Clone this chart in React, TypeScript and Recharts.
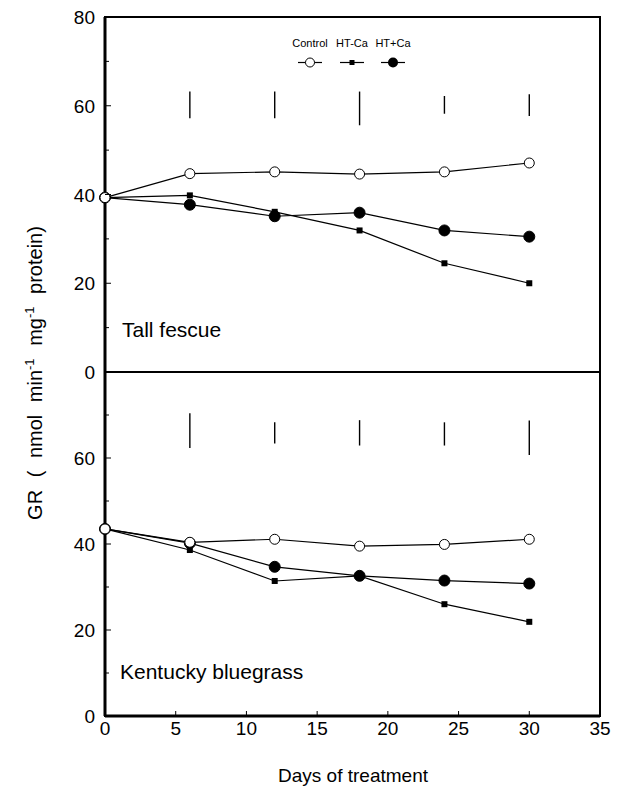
import React from 'react';
import { ComposedChart, Line, Scatter, ErrorBar, XAxis, YAxis, ReferenceArea } from 'recharts';

const days = [0, 6, 12, 18, 24, 30];

const fescueControl = [39.3, 44.7, 45.1, 44.6, 45.1, 47.1];
const fescueHtMinus = [39.3, 39.8, 36.1, 31.9, 24.5, 20.0];
const fescueHtPlus = [39.3, 37.7, 35.1, 35.9, 31.9, 30.5];

const bluegrassControl = [43.5, 40.4, 41.1, 39.5, 39.9, 41.1];
const bluegrassHtMinus = [43.5, 38.6, 31.4, 32.6, 26.0, 21.9];
const bluegrassHtPlus = [43.5, 40.2, 34.7, 32.6, 31.5, 30.8];

// LSD bars drawn above the lines
const lsdDays = [6, 12, 18, 24, 30];
const fescueLsdLow = [57.2, 57.2, 55.6, 58.2, 57.7];
const fescueLsdHigh = [63.2, 63.2, 63.2, 62.2, 62.6];
const bluegrassLsdLow = [62.3, 63.4, 62.9, 62.9, 60.7];
const bluegrassLsdHigh = [70.4, 68.3, 68.8, 68.3, 68.7];

const xTicks = [0, 5, 10, 15, 20, 25, 30, 35];
const topYTicks = [0, 10, 20, 30, 40, 50, 60, 70, 80];
const bottomYTicks = [0, 10, 20, 30, 40, 50, 60, 70];
const legendLabels = ['Control', 'HT-Ca', 'HT+Ca'];

const FONT = '"Liberation Sans", Arial, sans-serif';
const W = 623;
const MARGIN_RIGHT = 23;
const Y_WIDTH = 105;

function buildRows(control: number[], minus: number[], plus: number[]) {
  return days.map((d, i) => ({ day: d, control: control[i], minus: minus[i], plus: plus[i] }));
}

function buildLsd(low: number[], high: number[]) {
  return lsdDays.map((d, i) => ({ day: d, mid: (low[i] + high[i]) / 2, err: (high[i] - low[i]) / 2 }));
}

const SquareDot = (props: any) => {
  const { cx, cy } = props;
  if (cx == null || cy == null) return null;
  return <rect x={cx - 3} y={cy - 3} width={6} height={6} fill="#000" />;
};

const makeYTick = (labelled: boolean) => (props: any) => {
  const { x, y, payload } = props;
  const v = payload.value;
  const major = v % 20 === 0;
  const ax = x + 10;
  return (
    <g>
      {v !== 0 && v !== 80 && (
        <line x1={ax} x2={ax + (major ? 6 : 4)} y1={y} y2={y} stroke="#000" strokeWidth={1} />
      )}
      {labelled && major && (
        <text x={x} y={y} dy={7} textAnchor="end" fontSize={19} fontFamily={FONT} fill="#000">
          {v}
        </text>
      )}
    </g>
  );
};

const makeXTick = (labelled: boolean, offset: number) => (props: any) => {
  const { x, y, payload } = props;
  const v = payload.value;
  const ay = y - offset;
  return (
    <g>
      {v !== 0 && v !== 35 && <line x1={x} x2={x} y1={ay} y2={ay - 5} stroke="#000" strokeWidth={1} />}
      {labelled && (
        <text x={x} y={ay} dy={19} textAnchor="middle" fontSize={19} fontFamily={FONT} fill="#000">
          {v}
        </text>
      )}
    </g>
  );
};

interface PanelProps {
  rows: any[];
  lsd: any[];
  height: number;
  marginTop: number;
  marginBottom: number;
  xAxisHeight: number;
  yTicks: number[];
  bottomLabels: boolean;
}

function Panel({ rows, lsd, height, marginTop, marginBottom, xAxisHeight, yTicks, bottomLabels }: PanelProps) {
  return (
    <ComposedChart
      width={W}
      height={height}
      data={rows}
      margin={{ top: marginTop, right: MARGIN_RIGHT, bottom: marginBottom, left: 0 }}
      style={{ overflow: 'visible' }}
    >
      <ReferenceArea x1={0} x2={35} y1={0} y2={80} fill="none" stroke="#000" strokeWidth={2} />
      <XAxis
        type="number"
        dataKey="day"
        domain={[0, 35]}
        ticks={xTicks}
        height={xAxisHeight}
        tickSize={0}
        tickMargin={bottomLabels ? 4 : 0}
        tickLine={false}
        axisLine={{ stroke: '#000', strokeWidth: 3 }}
        tick={makeXTick(bottomLabels, bottomLabels ? 4 : 0)}
        interval={0}
      />
      <YAxis
        type="number"
        domain={[0, 80]}
        ticks={yTicks}
        width={Y_WIDTH}
        tickSize={0}
        tickMargin={10}
        tickLine={false}
        axisLine={{ stroke: '#000', strokeWidth: 3 }}
        tick={makeYTick(true)}
        interval={0}
      />
      <Scatter data={lsd} dataKey="mid" shape={() => <g />} isAnimationActive={false}>
        <ErrorBar dataKey="err" direction="y" width={0} stroke="#000" strokeWidth={1.4} />
      </Scatter>
      <Line
        dataKey="minus"
        stroke="#000"
        strokeWidth={1.2}
        dot={<SquareDot />}
        isAnimationActive={false}
      />
      <Line
        dataKey="plus"
        stroke="#000"
        strokeWidth={1.2}
        dot={{ r: 5.5, fill: '#000', stroke: '#000', strokeWidth: 1 }}
        isAnimationActive={false}
      />
      <Line
        dataKey="control"
        stroke="#000"
        strokeWidth={1.2}
        dot={{ r: 5, fill: '#fff', stroke: '#000', strokeWidth: 1 }}
        isAnimationActive={false}
      />
    </ComposedChart>
  );
}

function LegendBox() {
  const centers = [310, 352, 393];
  return (
    <svg width={W} height={80} style={{ position: 'absolute', left: 0, top: 0, pointerEvents: 'none' }}>
      {legendLabels.map((l, i) => (
        <g key={l}>
          <text x={centers[i]} y={47} textAnchor="middle" fontSize={11} fontFamily={FONT} fill="#000">
            {l}
          </text>
          <line x1={centers[i] - 12} x2={centers[i] + 12} y1={62.5} y2={62.5} stroke="#000" strokeWidth={1.2} />
          {i === 0 && <circle cx={centers[i]} cy={62.5} r={4.5} fill="#fff" stroke="#000" strokeWidth={1} />}
          {i === 1 && <rect x={centers[i] - 2.5} y={60} width={5} height={5} fill="#000" />}
          {i === 2 && <circle cx={centers[i]} cy={62.5} r={5} fill="#000" />}
        </g>
      ))}
    </svg>
  );
}

export default function App() {
  const fescueRows = buildRows(fescueControl, fescueHtMinus, fescueHtPlus);
  const bluegrassRows = buildRows(bluegrassControl, bluegrassHtMinus, bluegrassHtPlus);
  return (
    <div style={{ position: 'absolute', left: 0, top: 0, width: W, height: 791, background: '#fff', fontFamily: FONT }}>
      <div style={{ position: 'absolute', left: 0, top: 372 }}>
        <Panel
          rows={bluegrassRows}
          lsd={buildLsd(bluegrassLsdLow, bluegrassLsdHigh)}
          height={374}
          marginTop={0}
          marginBottom={0}
          xAxisHeight={30}
          yTicks={bottomYTicks}
          bottomLabels={true}
        />
      </div>
      <div style={{ position: 'absolute', left: 0, top: 0 }}>
        <Panel
          rows={fescueRows}
          lsd={buildLsd(fescueLsdLow, fescueLsdHigh)}
          height={390}
          marginTop={17}
          marginBottom={18}
          xAxisHeight={0}
          yTicks={topYTicks}
          bottomLabels={false}
        />
      </div>
      <LegendBox />
      <div style={{ position: 'absolute', left: 122, top: 318, fontSize: 21, color: '#000' }}>Tall fescue</div>
      <div style={{ position: 'absolute', left: 120, top: 660, fontSize: 21, color: '#000' }}>Kentucky bluegrass</div>
      <div
        style={{
          position: 'absolute',
          left: 35,
          top: 373,
          transform: 'translate(-50%, -50%) rotate(-90deg)',
          whiteSpace: 'nowrap',
          fontSize: 20,
          wordSpacing: 7,
          lineHeight: '22px',
          color: '#000',
        }}
      >
        GR ( nmol min<sup style={{ fontSize: 13, lineHeight: 0 }}>-1</sup> mg<sup style={{ fontSize: 13, lineHeight: 0 }}>-1</sup> protein)
      </div>
      <div
        style={{
          position: 'absolute',
          left: 353,
          top: 765,
          transform: 'translateX(-50%)',
          whiteSpace: 'nowrap',
          fontSize: 19,
          color: '#000',
        }}
      >
        Days of treatment
      </div>
    </div>
  );
}
